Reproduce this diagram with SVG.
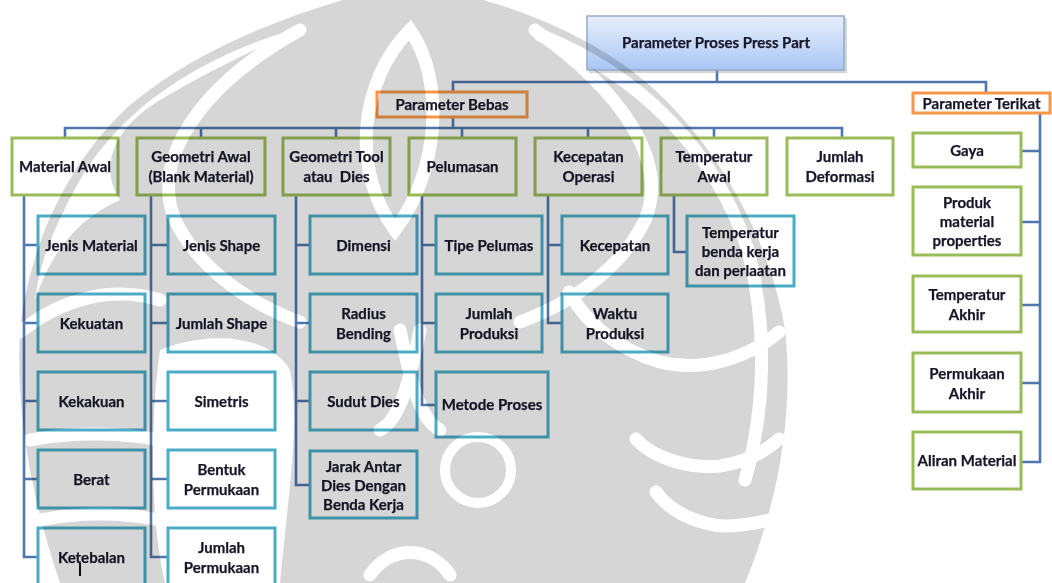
<svg xmlns="http://www.w3.org/2000/svg" width="1052" height="583" viewBox="0 0 1052 583">
  <defs>
    <linearGradient id="topFill" x1="0" y1="0" x2="0" y2="1">
      <stop offset="0" stop-color="#e8effc"/>
      <stop offset="1" stop-color="#a9c6f4"/>
    </linearGradient>
    <style>
      .bg { fill: #ffffff; }
      .wire { fill: none; stroke: #4f76ad; stroke-width: 2.6; stroke-linecap: square; }
      .top { fill: url(#topFill); stroke: #95a9c9; stroke-width: 1.5; }
      .shadow { fill: #9aa3b0; opacity: 0.45; }
      .group { fill: #ffffff; stroke: #f79646; stroke-width: 3; }
      .lvl1 { fill: #ffffff; stroke: #9bbb59; stroke-width: 3; }
      .lvl2 { fill: #ffffff; stroke: #4bacc6; stroke-width: 3; }
      .out { fill: #ffffff; stroke: #9bbb59; stroke-width: 3; }
      text { font-family: "Lato", "Liberation Sans", sans-serif; font-weight: 700; font-size: 15px; fill: #17172a; stroke: #17172a; stroke-width: 0.25; text-anchor: middle; }
      .mark { mix-blend-mode: multiply; isolation: isolate; }
      .markBody { fill: #d6d6d6; }
      .cut { fill: none; stroke: #ffffff; stroke-width: 13; stroke-linecap: round; }
      .hole { fill: #ffffff; }
    </style>
  </defs>

  <rect class="bg" x="0" y="0" width="1052" height="583"/>

  <!-- connectors -->
  <g id="connectors">
    <path class="wire" d="M717,70 V82 M453,82 H986 M453,82 V92 M986,82 V93"/>
    <path class="wire" d="M453,117 V128 M65,128 H842 M65,128 V138 M201,128 V138 M336,128 V138 M462,128 V138 M588,128 V138 M714,128 V138 M842,128 V138"/>
    <path class="wire" d="M24,195 V557 M24,245 H38 M24,323 H38 M24,401 H38 M24,479 H38 M24,557 H38"/>
    <path class="wire" d="M151,195 V557 M151,245 H168 M151,323 H168 M151,401 H168 M151,479 H168 M151,557 H168"/>
    <path class="wire" d="M296,195 V485 M296,245 H310 M296,323 H310 M296,401 H310 M296,485 H310"/>
    <path class="wire" d="M422,195 V405 M422,245 H436 M422,323 H436 M422,405 H436"/>
    <path class="wire" d="M548,195 V323 M548,245 H562 M548,323 H562"/>
    <path class="wire" d="M674,195 V252 H687"/>
    <path class="wire" d="M1040,113 V462 M1021,151 H1040 M1021,222 H1040 M1021,305 H1040 M1021,383 H1040 M1021,462 H1040"/>
  </g>

  <!-- root -->
  <g id="root">
    <rect class="shadow" x="589" y="18" width="258" height="55"/>
    <rect class="top" x="587" y="16" width="257" height="54"/>
    <text x="716" y="48">Parameter Proses Press Part</text>
  </g>

  <!-- group headers -->
  <g id="bebas">
    <rect class="group" x="377" y="92" width="150" height="25"/>
    <text x="452" y="110">Parameter Bebas</text>
  </g>
  <g id="terikat">
    <rect class="group" x="913" y="93" width="137" height="20"/>
    <text x="981.5" y="108.5">Parameter Terikat</text>
  </g>

  <!-- free parameters -->
  <g id="material-awal">
    <rect class="lvl1" x="12" y="138" width="106" height="57"/>
    <text x="65" y="172">Material Awal</text>
  </g>
  <g id="geometri-awal">
    <rect class="lvl1" x="137" y="138" width="128" height="57"/>
    <text x="201" y="162">Geometri Awal</text>
    <text x="201" y="182">(Blank Material)</text>
  </g>
  <g id="geometri-tool">
    <rect class="lvl1" x="283" y="138" width="107" height="57"/>
    <text x="336.5" y="162">Geometri Tool</text>
    <text x="336.5" y="182" xml:space="preserve">atau  Dies</text>
  </g>
  <g id="pelumasan">
    <rect class="lvl1" x="409" y="138" width="107" height="57"/>
    <text x="462.5" y="172">Pelumasan</text>
  </g>
  <g id="kecepatan-operasi">
    <rect class="lvl1" x="535" y="138" width="107" height="57"/>
    <text x="588.5" y="162">Kecepatan</text>
    <text x="588.5" y="182">Operasi</text>
  </g>
  <g id="temperatur-awal">
    <rect class="lvl1" x="661" y="138" width="106" height="57"/>
    <text x="714" y="162">Temperatur</text>
    <text x="714" y="182">Awal</text>
  </g>
  <g id="jumlah-deformasi">
    <rect class="lvl1" x="787" y="138" width="106" height="57"/>
    <text x="840" y="162">Jumlah</text>
    <text x="840" y="182">Deformasi</text>
  </g>

  <!-- Material Awal details -->
  <g id="jenis-material">
    <rect class="lvl2" x="38" y="216" width="107" height="58"/>
    <text x="91.5" y="250.5">Jenis Material</text>
  </g>
  <g id="kekuatan">
    <rect class="lvl2" x="38" y="294" width="107" height="58"/>
    <text x="91.5" y="328.5">Kekuatan</text>
  </g>
  <g id="kekakuan">
    <rect class="lvl2" x="38" y="372" width="107" height="58"/>
    <text x="91.5" y="406.5">Kekakuan</text>
  </g>
  <g id="berat">
    <rect class="lvl2" x="38" y="450" width="107" height="58"/>
    <text x="91.5" y="484.5">Berat</text>
  </g>
  <g id="ketebalan">
    <rect class="lvl2" x="38" y="528" width="107" height="58"/>
    <text x="91.5" y="562.5">Ketebalan</text>
  </g>

  <!-- Geometri Awal details -->
  <g id="jenis-shape">
    <rect class="lvl2" x="168" y="216" width="107" height="58"/>
    <text x="221.5" y="250.5">Jenis Shape</text>
  </g>
  <g id="jumlah-shape">
    <rect class="lvl2" x="168" y="294" width="107" height="58"/>
    <text x="221.5" y="328.5">Jumlah Shape</text>
  </g>
  <g id="simetris">
    <rect class="lvl2" x="168" y="372" width="107" height="58"/>
    <text x="221.5" y="406.5">Simetris</text>
  </g>
  <g id="bentuk-permukaan">
    <rect class="lvl2" x="168" y="450" width="107" height="58"/>
    <text x="221.5" y="474.5">Bentuk</text>
    <text x="221.5" y="494.5">Permukaan</text>
  </g>
  <g id="jumlah-permukaan">
    <rect class="lvl2" x="168" y="528" width="107" height="58"/>
    <text x="221.5" y="552.5">Jumlah</text>
    <text x="221.5" y="572.5">Permukaan</text>
  </g>

  <!-- Geometri Tool details -->
  <g id="dimensi">
    <rect class="lvl2" x="310" y="216" width="107" height="58"/>
    <text x="363.5" y="250.5">Dimensi</text>
  </g>
  <g id="radius-bending">
    <rect class="lvl2" x="310" y="294" width="107" height="58"/>
    <text x="363.5" y="318.5">Radius</text>
    <text x="363.5" y="338.5">Bending</text>
  </g>
  <g id="sudut-dies">
    <rect class="lvl2" x="310" y="372" width="107" height="58"/>
    <text x="363.5" y="406.5">Sudut Dies</text>
  </g>
  <g id="jarak-antar-dies">
    <rect class="lvl2" x="310" y="451" width="107" height="67"/>
    <text x="363.5" y="471.5">Jarak Antar</text>
    <text x="363.5" y="490.5">Dies Dengan</text>
    <text x="363.5" y="509.5">Benda Kerja</text>
  </g>

  <!-- Pelumasan details -->
  <g id="tipe-pelumas">
    <rect class="lvl2" x="436" y="216" width="106" height="58"/>
    <text x="489" y="250.5">Tipe Pelumas</text>
  </g>
  <g id="jumlah-produksi">
    <rect class="lvl2" x="436" y="294" width="106" height="58"/>
    <text x="489" y="318.5">Jumlah</text>
    <text x="489" y="338.5">Produksi</text>
  </g>
  <g id="metode-proses">
    <rect class="lvl2" x="436" y="372" width="112" height="65"/>
    <text x="492" y="409.5">Metode Proses</text>
  </g>

  <!-- Kecepatan Operasi details -->
  <g id="kecepatan">
    <rect class="lvl2" x="562" y="216" width="106" height="58"/>
    <text x="615" y="250.5">Kecepatan</text>
  </g>
  <g id="waktu-produksi">
    <rect class="lvl2" x="562" y="294" width="106" height="58"/>
    <text x="615" y="318.5">Waktu</text>
    <text x="615" y="338.5">Produksi</text>
  </g>

  <!-- Temperatur Awal details -->
  <g id="temperatur-benda">
    <rect class="lvl2" x="687" y="216" width="107" height="70"/>
    <text x="740.5" y="237.5">Temperatur</text>
    <text x="740.5" y="256.5">benda kerja</text>
    <text x="740.5" y="275.5">dan perlaatan</text>
  </g>

  <!-- dependent parameters -->
  <g id="gaya">
    <rect class="out" x="913" y="133" width="108" height="34"/>
    <text x="967" y="155.5">Gaya</text>
  </g>
  <g id="produk-material">
    <rect class="out" x="913" y="187" width="108" height="68"/>
    <text x="967" y="207.5">Produk</text>
    <text x="967" y="226.5">material</text>
    <text x="967" y="245.5">properties</text>
  </g>
  <g id="temperatur-akhir">
    <rect class="out" x="913" y="276" width="108" height="56"/>
    <text x="967" y="299.5">Temperatur</text>
    <text x="967" y="319.5">Akhir</text>
  </g>
  <g id="permukaan-akhir">
    <rect class="out" x="913" y="353" width="108" height="59"/>
    <text x="967" y="378.5">Permukaan</text>
    <text x="967" y="398.5">Akhir</text>
  </g>
  <g id="aliran-material">
    <rect class="out" x="913" y="432" width="108" height="57"/>
    <text x="967" y="465.5">Aliran Material</text>
  </g>

  <!-- watermark emblem laid over the chart -->
  <g class="mark">
    <path class="markBody" d="M440,-10 C520,5 600,40 655,90 C720,150 770,240 785,330 C795,420 775,510 745,583 L60,583 C35,510 15,420 20,330 C30,240 70,160 130,105 C190,55 270,20 360,-5 C390,-12 420,-13 440,-10 Z"/>
    <!-- upper left sweep -->
    <path class="hole" d="M300,28 C200,55 120,110 80,180 C55,225 40,260 35,300 C50,255 75,220 120,200 C100,170 110,130 160,100 C210,70 255,50 300,28 Z"/>
    <path class="cut" d="M300,30 C200,85 150,160 175,220 C195,262 240,300 300,322"/>
    <path class="cut" d="M535,30 C620,90 670,160 645,220 C625,262 580,300 520,322"/>
    <path class="cut" d="M540,35 C640,75 715,150 748,250 C768,330 765,410 745,480"/>
    <!-- central flame -->
    <path class="cut" d="M410,30 C360,80 350,170 395,230 C440,170 445,80 410,30 Z"/>
    <!-- lower ribs -->
    <path class="cut" d="M569,292 C590,330 626,352 660,362 C700,372 745,360 779,332"/>
    <path class="cut" d="M636,439 C655,460 693,469 720,466 C745,462 765,452 779,439"/>
    <path class="cut" d="M656,492 C670,512 699,525 725,526 C745,526 760,522 769,520"/>
    <path class="cut" d="M20,332 C60,300 110,285 160,300"/>
    <path class="cut" d="M30,440 C70,432 120,432 160,440"/>
    <path class="cut" d="M40,520 C80,512 120,512 160,520"/>
    <!-- open middle band on the left -->
    <path class="hole" d="M160,350 C210,330 270,335 290,370 C300,420 290,480 280,583 L165,583 C150,520 150,420 160,350 Z"/>
    <circle cx="478" cy="470" r="33" fill="none" stroke="#ffffff" stroke-width="10"/>
    <path class="cut" d="M400,330 C410,380 420,420 440,430"/>
    <path class="cut" d="M420,330 C410,380 400,420 380,430"/>
    <path class="cut" d="M370,575 C390,545 430,545 450,575"/>
  </g>

  <!-- text cursor -->
  <path d="M80,563 V576" stroke="#111111" stroke-width="2"/>
</svg>
